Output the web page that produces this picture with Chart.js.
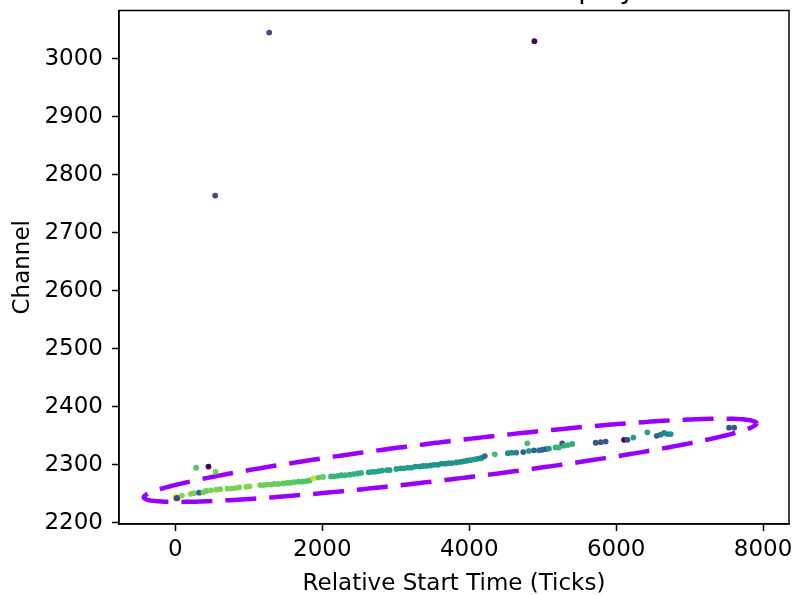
<!DOCTYPE html>
<html>
<head>
<meta charset="utf-8">
<script src="https://cdn.jsdelivr.net/npm/chart.js@4/dist/chart.umd.min.js"></script>
<style>
  html, body { margin: 0; padding: 0; background: #ffffff; }
  #wrap { width: 794px; height: 595px; }
</style>
</head>
<body>
<div id="wrap"><canvas id="chart" width="794" height="595"></canvas></div>
<script>
// Hits: relative start time (ticks), channel number and colour value (0..1, viridis)
const startTimes = [
  1277, 4887, 541,
  282, 450, 545, 0, 15, 27, 90,
  210, 255, 323, 382, 418, 482, 555, 609, 709, 759, 814, 868, 964, 1009,
  1154, 1200, 1246, 1300, 1345, 1400, 1464, 1518, 1563, 1618, 1677, 1731, 1781, 1827,
  1881, 1949, 2009, 2118, 2163, 2213, 2259, 2313, 2372, 2426, 2481, 2527,
  2631, 2677, 2722, 2767, 2813, 2881, 2917, 3008, 3063, 3108, 3162, 3213,
  3267, 3322, 3367, 3417, 3472, 3517, 3571, 3622, 3676, 3721, 3767, 3826, 3880,
  3924, 3968, 4011, 4055, 4099, 4142, 4174, 4212, 4348,
  4525, 4576, 4640, 4735, 4790, 4811, 4880, 4948, 4994, 5039, 5084,
  5175, 5220, 5266, 5288, 5343, 5403, 5721, 5789, 5857,
  6107, 6153, 6234, 6425, 6552, 6606, 6652, 6698, 6743, 7537, 7606
];
const channels = [
  3045, 3030, 2764,
  2295, 2297, 2288, 2245, 2242, 2243, 2247,
  2250, 2251, 2252, 2253, 2255, 2256, 2257, 2258, 2259, 2259, 2260, 2261, 2262, 2263,
  2265, 2265, 2266, 2266, 2267, 2267, 2268, 2269, 2269, 2270, 2271, 2271, 2272, 2273,
  2277, 2278, 2279, 2280, 2280, 2281, 2282, 2282, 2283, 2284, 2285, 2286,
  2287, 2288, 2288, 2289, 2290, 2291, 2291, 2293, 2294, 2294, 2295, 2295,
  2297, 2297, 2298, 2298, 2299, 2300, 2300, 2302, 2302, 2303, 2303, 2304, 2305,
  2306, 2307, 2308, 2309, 2310, 2311, 2312, 2315, 2318,
  2320, 2321, 2321, 2322, 2337, 2324, 2325, 2325, 2326, 2327, 2328,
  2330, 2330, 2337, 2333, 2334, 2336, 2338, 2339, 2340,
  2343, 2343, 2347, 2356, 2350, 2352, 2355, 2353, 2353, 2364, 2364
];
const intensity = [
  0.22, 0.02, 0.22,
  0.74, 0.00, 0.80, 0.98, 0.25, 0.20, 0.82,
  0.80, 0.80, 0.30, 0.80, 0.78, 0.80, 0.80, 0.80, 0.80, 0.80, 0.80, 0.80, 0.82, 0.82,
  0.78, 0.78, 0.78, 0.78, 0.76, 0.76, 0.76, 0.74, 0.74, 0.74, 0.72, 0.72, 0.72, 0.72,
  0.93, 0.76, 0.76, 0.66, 0.66, 0.66, 0.66, 0.66, 0.65, 0.65, 0.65, 0.65,
  0.60, 0.60, 0.60, 0.60, 0.60, 0.58, 0.58, 0.55, 0.55, 0.55, 0.55, 0.55,
  0.52, 0.52, 0.52, 0.52, 0.50, 0.50, 0.50, 0.50, 0.50, 0.50, 0.50, 0.50, 0.50,
  0.50, 0.50, 0.52, 0.55, 0.55, 0.48, 0.45, 0.35, 0.70,
  0.50, 0.50, 0.45, 0.30, 0.70, 0.55, 0.30, 0.40, 0.30, 0.30, 0.50,
  0.65, 0.65, 0.25, 0.62, 0.65, 0.62, 0.25, 0.25, 0.25,
  0.02, 0.20, 0.55, 0.58, 0.30, 0.40, 0.45, 0.45, 0.50, 0.25, 0.25
];

const xTickValues = [0, 2000, 4000, 6000, 8000];
const yTickValues = [2200, 2300, 2400, 2500, 2600, 2700, 2800, 2900, 3000];

// Cluster ellipse: centre, half axes and rotation (rotation applied in data units)
const ellipseCenter = [3740, 2307.8];
const ellipseHalfAxes = [4170, 33];
const ellipseAngleDeg = 0.875;

// viridis colour stops
const VIRIDIS = ['#440154', '#482475', '#414487', '#355f8d', '#2a788e', '#21918c',
                 '#22a884', '#44bf70', '#7ad151', '#bddf26', '#fde725'];
function hexToRgb(h) {
  return [parseInt(h.slice(1, 3), 16), parseInt(h.slice(3, 5), 16), parseInt(h.slice(5, 7), 16)];
}
function viridis(t) {
  t = Math.max(0, Math.min(1, t));
  const p = t * (VIRIDIS.length - 1);
  const i = Math.min(Math.floor(p), VIRIDIS.length - 2);
  const f = p - i;
  const a = hexToRgb(VIRIDIS[i]), b = hexToRgb(VIRIDIS[i + 1]);
  const c = a.map((v, k) => Math.round(v + (b[k] - v) * f));
  return `rgb(${c[0]},${c[1]},${c[2]})`;
}

const hitPoints = startTimes.map((x, i) => ({ x: x, y: channels[i] }));
const hitColors = intensity.map(viridis);

// outline of the ellipse, sampled around its parameter angle
const ellipseOutline = [];
{
  const th = ellipseAngleDeg * Math.PI / 180;
  const cs = Math.cos(th), sn = Math.sin(th);
  const N = 360;
  for (let k = 0; k <= N; k++) {
    const t = 2 * Math.PI * k / N;
    const u = ellipseHalfAxes[0] * Math.cos(t);
    const v = ellipseHalfAxes[1] * Math.sin(t);
    ellipseOutline.push({ x: ellipseCenter[0] + u * cs - v * sn, y: ellipseCenter[1] + u * sn + v * cs });
  }
}

const FONT = 'DejaVu Sans';
const TICK_SIZE = 23;

// frame around the plot area, and the title line above it
const framePlugin = {
  id: 'frame',
  afterDraw(chart) {
    const { ctx, chartArea: a } = chart;
    ctx.save();
    ctx.strokeStyle = '#000';
    ctx.lineWidth = 1.5;
    ctx.strokeRect(a.left, a.top, a.right - a.left, a.bottom - a.top);
    ctx.fillStyle = '#000';
    ctx.font = `27px "${FONT}"`;
    ctx.textAlign = 'center';
    ctx.textBaseline = 'alphabetic';
    ctx.fillText('Channel vs Start Time Display', 432, -2);
    ctx.restore();
  }
};

const plainNumber = v => String(v);

new Chart(document.getElementById('chart'), {
  type: 'scatter',
  data: {
    datasets: [
      {
        label: 'hits',
        data: hitPoints,
        backgroundColor: hitColors,
        borderWidth: 0,
        pointRadius: 2.9,
        order: 1
      },
      {
        type: 'line',
        label: 'cluster',
        data: ellipseOutline,
        showLine: true,
        fill: false,
        borderColor: '#9a00ff',
        borderWidth: 4.5,
        borderDash: [31, 13],
        pointRadius: 0,
        tension: 0,
        order: 2
      }
    ]
  },
  options: {
    responsive: false,
    animation: false,
    devicePixelRatio: 1,
    layout: { padding: { left: 0, right: 5, top: 10.5, bottom: 0 } },
    plugins: { legend: { display: false }, tooltip: { enabled: false }, title: { display: false } },
    scales: {
      x: {
        type: 'linear',
        min: -768,
        max: 8353,
        afterBuildTicks(s) { s.ticks = xTickValues.map(v => ({ value: v })); },
        afterFit(s) { s.height = 71; s.paddingLeft = 0; s.paddingRight = 0; },
        ticks: { color: '#000', font: { family: FONT, size: TICK_SIZE }, padding: 5, maxRotation: 0, callback: plainNumber },
        grid: { display: true, drawOnChartArea: false, drawTicks: true, tickLength: 7, tickWidth: 1.5, tickColor: '#000' },
        border: { display: true, color: '#000', width: 1.5 },
        title: { display: true, text: 'Relative Start Time (Ticks)', color: '#000',
                 font: { family: FONT, size: TICK_SIZE }, padding: { top: 0, bottom: -3 } }
      },
      y: {
        type: 'linear',
        min: 2198,
        max: 3083,
        afterBuildTicks(s) { s.ticks = yTickValues.map(v => ({ value: v })); },
        afterFit(s) { s.width = 119; s.paddingTop = 0; s.paddingBottom = 0; },
        ticks: { color: '#000', font: { family: FONT, size: TICK_SIZE }, padding: 9, callback: plainNumber },
        grid: { display: true, drawOnChartArea: false, drawTicks: true, tickLength: 7, tickWidth: 1.5, tickColor: '#000' },
        border: { display: true, color: '#000', width: 1.5 },
        title: { display: true, text: 'Channel', color: '#000',
                 font: { family: FONT, size: TICK_SIZE }, padding: { top: 9, bottom: 0 } }
      }
    }
  },
  plugins: [framePlugin]
});
</script>
</body>
</html>
